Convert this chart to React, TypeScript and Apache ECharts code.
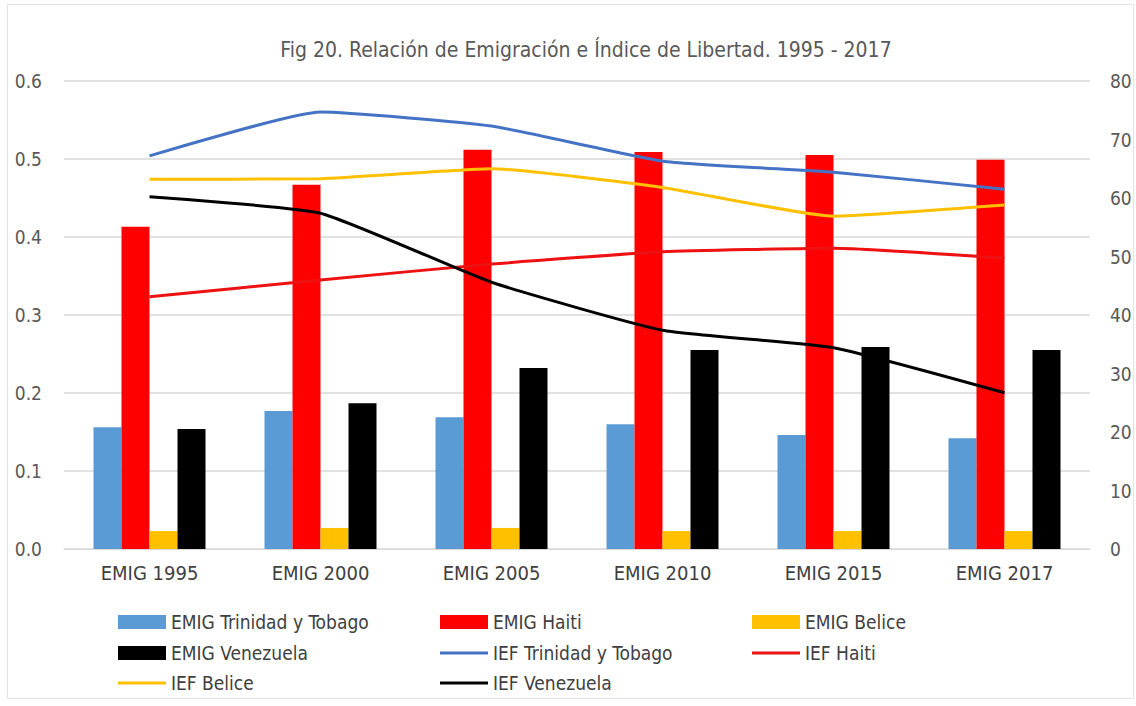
import React, { useEffect, useRef } from "react";
import * as echarts from "echarts";

const categories = ["EMIG 1995", "EMIG 2000", "EMIG 2005", "EMIG 2010", "EMIG 2015", "EMIG 2017"];
const emigTrinidad = [0.156, 0.177, 0.169, 0.160, 0.146, 0.142];
const emigHaiti = [0.413, 0.467, 0.512, 0.509, 0.505, 0.499];
const emigBelice = [0.023, 0.027, 0.027, 0.023, 0.023, 0.023];
const emigVenezuela = [0.154, 0.187, 0.232, 0.255, 0.259, 0.255];
const iefTrinidad = [67.2, 74.7, 72.3, 66.3, 64.4, 61.5];
const iefHaiti = [43.1, 46.0, 48.7, 50.8, 51.4, 49.7];
const iefBelice = [63.2, 63.3, 65.0, 61.8, 56.9, 58.8];
const iefVenezuela = [60.2, 57.4, 45.6, 37.4, 34.4, 26.7];
const leftTicks = [0, 0.1, 0.2, 0.3, 0.4, 0.5, 0.6];
const rightTicks = [0, 10, 20, 30, 40, 50, 60, 70, 80];

const FONT = "'Liberation Sans Narrow', 'DejaVu Sans Condensed', 'Open Sans', sans-serif";

export default function App() {
  const ref = useRef<HTMLDivElement>(null);
  useEffect(() => {
    document.body.style.margin = "0";
    const chart = echarts.init(ref.current!, null, { renderer: "svg" });
    const bar = (name: string, data: number[], color: string) => ({
      name,
      type: "bar",
      data,
      barWidth: 28,
      barGap: "0%",
      itemStyle: { color },
      yAxisIndex: 0,
    });
    const line = (name: string, data: number[], color: string) => ({
      name,
      type: "line",
      data,
      yAxisIndex: 1,
      smooth: 0.15,
      symbol: "none",
      lineStyle: { color, width: 3 },
      itemStyle: { color },
      z: 5,
    });
    const cols = [118, 440, 752];
    const rows = [622, 653, 683];
    const legendItems = [
      ["EMIG Trinidad y Tobago", 0, 0, false],
      ["EMIG Haiti", 1, 0, false],
      ["EMIG Belice", 2, 0, false],
      ["EMIG Venezuela", 0, 1, false],
      ["IEF Trinidad y Tobago", 1, 1, true],
      ["IEF Haiti", 2, 1, true],
      ["IEF Belice", 0, 2, true],
      ["IEF Venezuela", 1, 2, true],
    ] as [string, number, number, boolean][];
    chart.setOption({
      animation: false,
      textStyle: { fontFamily: FONT },
      title: {
        text: "Fig 20. Relación de Emigración e Índice de Libertad. 1995 - 2017",
        left: 581,
        textAlign: "center",
        top: 34,
        textStyle: { fontFamily: FONT, fontSize: 21, fontWeight: "normal", color: "#595959" },
      },
      graphic: [
        {
          type: "rect",
          shape: { x: 7.5, y: 4.5, width: 1126, height: 694 },
          style: { fill: "none", stroke: "#e3e3e3", lineWidth: 1 },
          silent: true,
        },
      ],
      legend: legendItems.map(([name, c, r, isLine]) => ({
        data: [{ name, icon: "rect" }],
        left: cols[c],
        top: rows[r] - 10,
        itemWidth: 48,
        itemHeight: isLine ? 3 : 14,
        padding: 0,
        textStyle: { fontFamily: FONT, fontSize: 19, color: "#404040", lineHeight: 20 },
        selectedMode: false,
      })),
      grid: { left: 64, right: 46, top: 81, bottom: 157, containLabel: false },
      xAxis: {
        type: "category",
        data: categories,
        axisTick: { show: false },
        axisLine: { lineStyle: { color: "#d9d9d9", width: 1 } },
        axisLabel: { fontFamily: FONT, fontSize: 20, color: "#404040", margin: 14 },
      },
      yAxis: [
        {
          type: "value",
          min: leftTicks[0],
          max: leftTicks[leftTicks.length - 1],
          interval: 0.1,
          axisLine: { show: false },
          axisTick: { show: false },
          splitLine: { lineStyle: { color: "#d9d9d9", width: 1.5 } },
          axisLabel: {
            fontFamily: FONT,
            fontSize: 19,
            color: "#595959",
            margin: 22,
            formatter: (v: number) => v.toFixed(1),
          },
        },
        {
          type: "value",
          min: rightTicks[0],
          max: rightTicks[rightTicks.length - 1],
          interval: 10,
          axisLine: { show: false },
          axisTick: { show: false },
          splitLine: { show: false },
          axisLabel: { fontFamily: FONT, fontSize: 19, color: "#595959", margin: 20 },
        },
      ],
      series: [
        bar("EMIG Trinidad y Tobago", emigTrinidad, "#5B9BD5"),
        bar("EMIG Haiti", emigHaiti, "#FF0000"),
        bar("EMIG Belice", emigBelice, "#FFC000"),
        bar("EMIG Venezuela", emigVenezuela, "#000000"),
        line("IEF Trinidad y Tobago", iefTrinidad, "#4472C4"),
        line("IEF Haiti", iefHaiti, "#EE1111"),
        line("IEF Belice", iefBelice, "#FFC000"),
        line("IEF Venezuela", iefVenezuela, "#000000"),
      ],
    });
    return () => chart.dispose();
  }, []);
  return <div ref={ref} style={{ width: 1136, height: 706, background: "#fff" }} />;
}
